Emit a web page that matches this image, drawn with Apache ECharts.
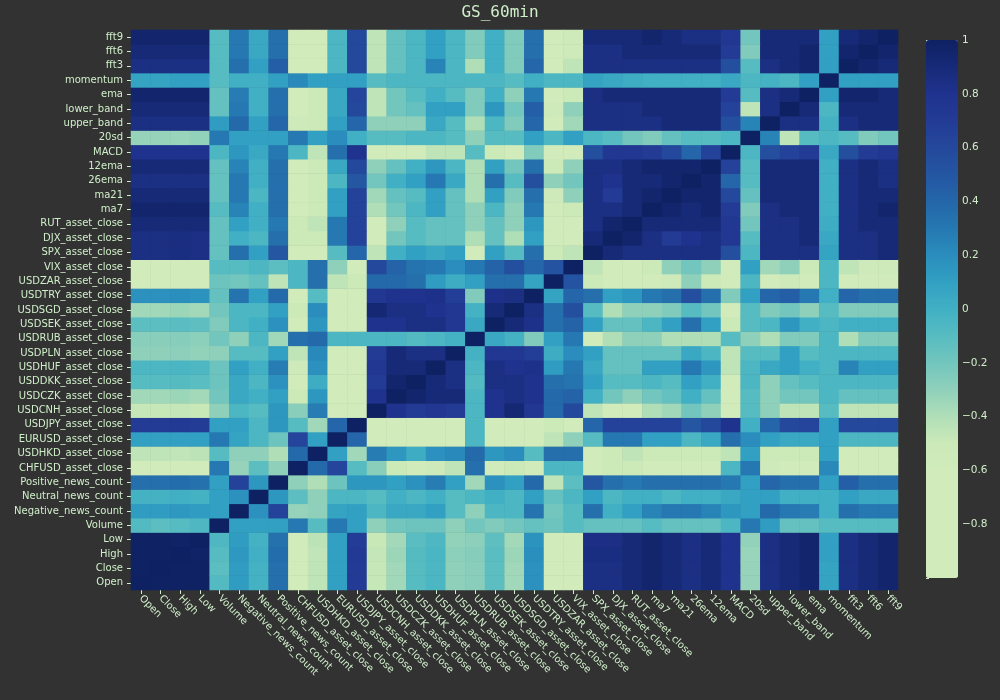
<!DOCTYPE html>
<html>
<head>
<meta charset="utf-8">
<script src="https://cdn.jsdelivr.net/npm/echarts@6/dist/echarts.min.js"></script>
<style>
  html, body { margin: 0; padding: 0; background: #323232; }
  #main { width: 1000px; height: 700px; }
</style>
</head>
<body>
<div id="main"></div>
<script>
// 变量名 (x 轴从左到右, y 轴从下到上)
var labels = ['Open', 'Close', 'High', 'Low', 'Volume', 'Negative_news_count', 'Neutral_news_count',
    'Positive_news_count', 'CHFUSD_asset_close', 'USDHKD_asset_close', 'EURUSD_asset_close',
    'USDJPY_asset_close', 'USDCNH_asset_close', 'USDCZK_asset_close', 'USDDKK_asset_close',
    'USDHUF_asset_close', 'USDPLN_asset_close', 'USDRUB_asset_close', 'USDSEK_asset_close',
    'USDSGD_asset_close', 'USDTRY_asset_close', 'USDZAR_asset_close', 'VIX_asset_close',
    'SPX_asset_close', 'DJX_asset_close', 'RUT_asset_close', 'ma7', 'ma21', '26ema', '12ema',
    'MACD', '20sd', 'upper_band', 'lower_band', 'ema', 'momentum', 'fft3', 'fft6', 'fft9'];

// 相关系数矩阵下三角 (第 i 行有 i+1 个值)
var lowerTri = [
    [1],
    [0.99, 1],
    [0.99, 0.99, 1],
    [0.99, 0.99, 0.98, 1],
    [-0.08, -0.12, -0.1, -0.06, 1],
    [0.12, 0.12, 0.14, 0.12, 0.1, 1],
    [-0.02, -0.02, 0, -0.02, 0.1, 0.18, 1],
    [0.35, 0.35, 0.36, 0.34, 0.1, 0.65, 0.15, 1],
    [-0.8, -0.8, -0.8, -0.8, 0.3, -0.32, -0.12, -0.3, 1],
    [-0.45, -0.45, -0.46, -0.44, -0.1, -0.3, -0.3, -0.4, 0.38, 1],
    [0.1, 0.1, 0.1, 0.1, 0.3, 0.08, -0.05, -0.18, 0.62, 0.1, 1],
    [0.7, 0.7, 0.71, 0.69, 0.1, 0.1, -0.05, 0.15, -0.1, -0.35, 0.4, 1],
    [-0.48, -0.48, -0.47, -0.49, -0.3, -0.05, -0.1, 0.15, -0.28, 0.28, -0.75, -0.8, 1],
    [-0.35, -0.35, -0.34, -0.36, -0.2, 0.05, 0, 0.1, -0.5, 0.15, -0.75, -0.78, 0.8, 1],
    [-0.1, -0.1, -0.09, -0.11, -0.18, 0.05, -0.05, 0.18, -0.72, 0.02, -0.6, -0.6, 0.7, 0.95, 1],
    [-0.05, -0.05, -0.04, -0.06, -0.18, 0.1, 0, 0.28, -0.55, 0.18, -0.75, -0.75, 0.75, 0.9, 0.9, 1],
    [-0.3, -0.3, -0.29, -0.31, -0.3, -0.1, -0.1, 0.1, -0.45, 0.22, -0.75, -0.75, 0.7, 0.9, 0.85, 0.85, 1],
    [-0.28, -0.28, -0.27, -0.29, -0.2, -0.3, -0.05, -0.35, 0.35, 0.38, -0.05, -0.05, -0.05, -0.05, -0.08, -0.05, -0.02, 1],
    [-0.12, -0.12, -0.11, -0.13, -0.25, -0.05, 0, 0.18, -0.72, 0.15, -0.75, -0.78, 0.8, 0.8, 0.85, 0.85, 0.75, 0.05, 1],
    [-0.35, -0.35, -0.34, -0.36, -0.2, -0.05, -0.05, 0.1, -0.5, 0.2, -0.75, -0.8, 0.92, 0.85, 0.85, 0.8, 0.75, -0.02, 0.9, 1],
    [0.18, 0.18, 0.19, 0.17, -0.15, 0.32, 0.1, 0.38, -0.72, -0.1, -0.62, -0.78, 0.75, 0.8, 0.8, 0.82, 0.68, -0.25, 0.82, 0.85, 1],
    [-0.78, -0.78, -0.78, -0.78, -0.18, -0.2, -0.15, -0.45, -0.05, 0.35, -0.45, -0.5, 0.38, 0.38, 0.35, 0.12, 0.02, 0.1, 0.35, 0.35, 0.08, 1],
    [-0.78, -0.78, -0.77, -0.79, -0.1, -0.1, -0.05, -0.12, -0.05, 0.35, -0.3, -0.7, 0.6, 0.42, 0.32, 0.3, 0.2, 0.3, 0.42, 0.55, 0.4, 0.52, 1],
    [0.85, 0.85, 0.86, 0.84, -0.15, 0.35, 0.1, 0.5, -0.7, -0.7, -0.1, 0.4, -0.45, 0, 0.1, 0.05, 0.1, -0.6, 0.1, -0.1, 0.35, -0.5, -0.45, 1],
    [0.85, 0.85, 0.86, 0.84, -0.15, 0, -0.05, 0.35, -0.5, -0.5, 0.3, 0.65, -0.7, -0.2, -0.1, -0.15, -0.15, -0.4, -0.15, -0.4, 0.1, -0.75, -0.75, 0.9, 1],
    [0.9, 0.9, 0.9, 0.9, -0.15, 0.1, 0, 0.3, -0.5, -0.45, 0.3, 0.65, -0.7, -0.3, -0.1, -0.15, -0.15, -0.3, -0.15, -0.3, 0.15, -0.75, -0.75, 0.85, 0.95, 1],
    [0.95, 0.95, 0.95, 0.95, -0.1, 0.25, 0, 0.35, -0.7, -0.5, 0.1, 0.65, -0.4, -0.2, -0.05, 0.1, -0.15, -0.3, -0.05, -0.3, 0.3, -0.7, -0.5, 0.85, 0.85, 0.9, 1],
    [0.9, 0.9, 0.9, 0.9, -0.15, 0.3, -0.05, 0.35, -0.75, -0.5, 0.1, 0.65, -0.35, -0.15, -0.1, 0.1, -0.15, -0.4, 0.1, -0.25, 0.35, -0.55, -0.3, 0.85, 0.7, 0.9, 0.95, 1],
    [0.85, 0.85, 0.85, 0.85, -0.15, 0.3, 0, 0.35, -0.75, -0.5, -0.05, 0.5, -0.2, 0, 0.1, 0.3, 0.05, -0.4, 0.35, -0.1, 0.55, -0.3, -0.2, 0.85, 0.8, 0.9, 0.9, 0.95, 1],
    [0.9, 0.9, 0.9, 0.9, -0.15, 0.25, 0, 0.35, -0.75, -0.5, 0.05, 0.6, -0.3, -0.15, 0, 0.15, -0.05, -0.4, 0.1, -0.2, 0.35, -0.5, -0.3, 0.85, 0.85, 0.9, 0.95, 0.95, 0.95, 1],
    [0.8, 0.8, 0.8, 0.8, -0.05, 0.15, 0.05, 0.3, -0.05, -0.45, 0.35, 0.8, -0.75, -0.75, -0.75, -0.45, -0.45, -0.1, -0.5, -0.75, -0.25, -0.8, -0.75, 0.55, 0.75, 0.75, 0.7, 0.6, 0.4, 0.65, 1],
    [-0.32, -0.32, -0.33, -0.31, 0.3, 0.1, 0.1, 0.1, 0.3, 0.1, 0.2, 0, -0.1, -0.1, -0.05, -0.05, -0.1, -0.3, -0.1, -0.1, 0.1, -0.05, 0.1, -0.05, -0.1, -0.2, -0.25, -0.15, -0.1, -0.1, -0.05, 1],
    [0.85, 0.85, 0.85, 0.85, 0.12, 0.38, 0.1, 0.4, -0.55, -0.5, 0.1, 0.4, -0.3, -0.3, -0.3, 0.05, -0.1, -0.4, -0.05, -0.25, 0.4, -0.7, -0.35, 0.85, 0.85, 0.85, 0.85, 0.9, 0.9, 0.9, 0.55, 0.25, 1],
    [0.9, 0.9, 0.9, 0.9, -0.15, 0.3, 0, 0.35, -0.75, -0.5, 0.05, 0.6, -0.45, -0.2, -0.15, 0.1, 0.1, -0.25, 0.15, -0.2, 0.45, -0.55, -0.3, 0.85, 0.85, 0.85, 0.9, 0.9, 0.9, 0.9, 0.65, -0.45, 0.85, 1],
    [0.95, 0.95, 0.95, 0.95, -0.15, 0.28, 0, 0.35, -0.75, -0.5, 0.05, 0.62, -0.45, -0.2, -0.1, 0, -0.1, -0.25, 0, -0.3, 0.3, -0.7, -0.5, 0.85, 0.9, 0.9, 0.9, 0.9, 0.9, 0.9, 0.7, -0.1, 0.85, 0.9, 1],
    [0.08, 0.08, 0.1, 0.1, -0.1, 0, 0, 0.1, 0.22, 0.1, 0.1, 0.1, -0.1, -0.05, -0.05, -0.05, -0.05, -0.05, -0.05, -0.1, 0, -0.05, -0.05, 0.08, 0.05, 0.02, 0, 0, 0, 0, 0.05, -0.05, -0.02, -0.05, 0.1, 1],
    [0.85, 0.85, 0.85, 0.85, -0.1, 0.35, 0.1, 0.45, -0.75, -0.7, -0.05, 0.6, -0.45, -0.15, -0.05, 0.25, -0.05, -0.4, 0, -0.25, 0.4, -0.7, -0.45, 0.85, 0.85, 0.85, 0.85, 0.85, 0.85, 0.85, 0.55, -0.1, 0.85, 0.9, 0.95, 0.1, 1],
    [0.9, 0.9, 0.9, 0.9, -0.1, 0.3, 0.05, 0.35, -0.75, -0.7, -0.05, 0.6, -0.45, -0.15, -0.05, 0.1, -0.05, -0.25, 0, -0.25, 0.35, -0.7, -0.55, 0.85, 0.85, 0.9, 0.9, 0.9, 0.9, 0.9, 0.7, -0.25, 0.9, 0.9, 0.95, 0.1, 0.95, 1],
    [0.95, 0.95, 0.95, 0.95, -0.1, 0.3, 0.05, 0.35, -0.75, -0.7, -0.05, 0.6, -0.45, -0.15, -0.05, 0.1, -0.05, -0.25, 0, -0.25, 0.35, -0.7, -0.55, 0.9, 0.9, 0.9, 0.95, 0.9, 0.85, 0.85, 0.75, -0.2, 0.9, 0.9, 0.9, 0.1, 0.9, 0.95, 1]
];

// 色条刻度
var cbarMin = -1;
var cbarMax = 1;
var cbarColors = ['#d1ebbb', '#d1ebbb', '#d1ebbb', '#d1ebbb', '#d1ebbb', '#cce9b8', '#b0dfb7',
    '#8fd0bb', '#72c6bd', '#57bcc1', '#41b0c4', '#32a0c2', '#2a8dbd', '#2578b1', '#2466a9',
    '#2456a2', '#24489c', '#233b95', '#1f338e', '#172a78', '#0e2162'];

var textColor = '#cfefc9';

// 对称展开成 [x, y, value]
var cells = [];
for (var i = 0; i < labels.length; i++) {
    for (var j = 0; j <= i; j++) {
        var v = lowerTri[i][j];
        cells.push([j, i, v]);
        if (i !== j) cells.push([i, j, v]);
    }
}

var dom = document.getElementById('main');
var myChart = echarts.init(dom, null, { renderer: 'canvas' });

var option = {
    backgroundColor: '#323232',
    animation: false,
    title: {
        text: 'GS_60min',
        left: 'center',
        top: 0,
        textStyle: {
            fontFamily: 'DejaVu Sans Mono',
            fontSize: 16,
            fontWeight: 'normal',
            color: textColor
        }
    },
    grid: [
        { left: 131, right: 102, top: 30, bottom: 110 },
        { left: 926, width: 32, top: 40, height: 538 }     // 色条刻度用
    ],
    xAxis: [
        {
            type: 'category',
            data: labels,
            gridIndex: 0,
            axisLine: { show: false },
            axisTick: { show: true, alignWithLabel: true, length: 4, lineStyle: { color: textColor } },
            axisLabel: {
                interval: 0,
                rotate: -45,
                margin: 7,
                color: textColor,
                fontFamily: 'DejaVu Sans',
                fontSize: 10
            },
            splitLine: { show: false }
        },
        { type: 'value', gridIndex: 1, show: false, min: 0, max: 1 }
    ],
    yAxis: [
        {
            type: 'category',
            data: labels,
            gridIndex: 0,
            axisLine: { show: false },
            axisTick: { show: true, alignWithLabel: true, length: 4, lineStyle: { color: textColor } },
            axisLabel: {
                interval: 0,
                margin: 8,
                color: textColor,
                fontFamily: 'DejaVu Sans',
                fontSize: 10
            },
            splitLine: { show: false }
        },
        {
            type: 'value',
            gridIndex: 1,
            position: 'right',
            min: cbarMin,
            max: cbarMax,
            interval: 0.2,
            axisLine: { show: false },
            axisTick: { show: true, length: 3, lineStyle: { color: textColor } },
            splitLine: { show: false },
            axisLabel: {
                margin: 4,
                color: textColor,
                fontFamily: 'DejaVu Sans',
                fontSize: 10.5,
                formatter: function (v) {
                    if (v <= -0.99) return '';
                    var s = String(Math.round(v * 10) / 10);
                    return s.replace('-', '\u2212');
                }
            }
        }
    ],
    visualMap: {
        type: 'continuous',
        seriesIndex: 0,
        min: cbarMin,
        max: cbarMax,
        calculable: false,
        hoverLink: false,
        orient: 'vertical',
        left: 926,
        top: 40,
        padding: 0,
        itemWidth: 32,
        itemHeight: 538,
        inRange: { color: cbarColors }
    },
    series: [
        {
            type: 'heatmap',
            xAxisIndex: 0,
            yAxisIndex: 0,
            data: cells,
            emphasis: { disabled: true },
            itemStyle: { borderWidth: 0 }
        }
    ]
};

myChart.setOption(option);
window.addEventListener('resize', myChart.resize);
</script>
</body>
</html>
